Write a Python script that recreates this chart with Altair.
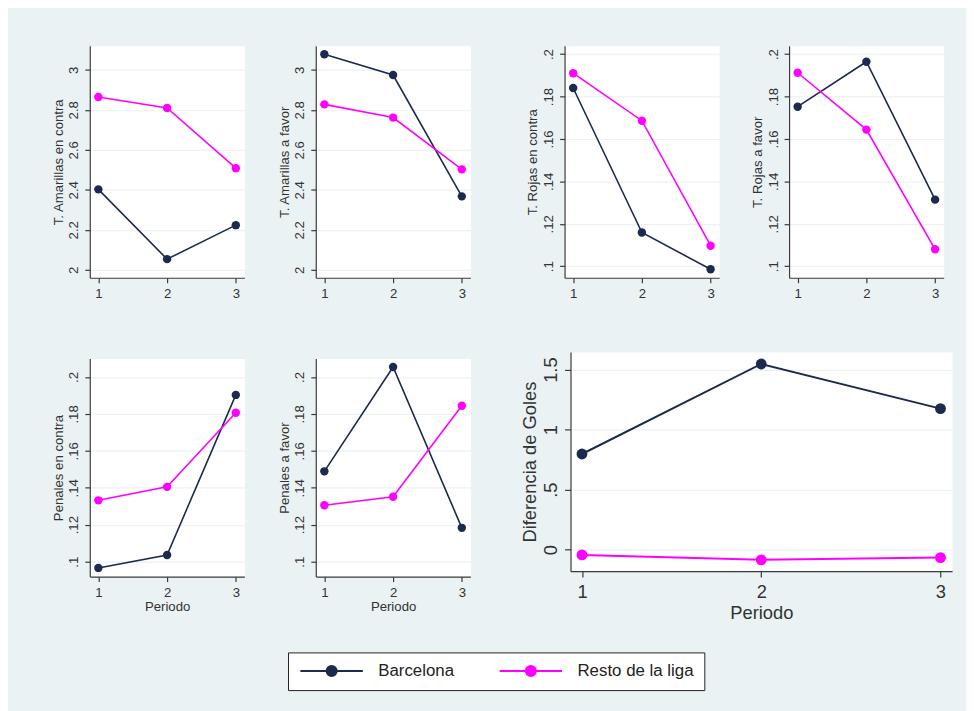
import altair as alt
import pandas as pd

# ---------------- data ----------------
periodos = [1, 2, 3]
series = ["Barcelona", "Resto de la liga"]

amar_contra_barca = [2.402, 2.053, 2.223]
amar_contra_resto = [2.864, 2.809, 2.508]
amar_favor_barca = [3.078, 2.974, 2.367]
amar_favor_resto = [2.827, 2.761, 2.502]
rojas_contra_barca = [0.1840, 0.1159, 0.0986]
rojas_contra_resto = [0.1910, 0.1686, 0.1097]
rojas_favor_barca = [0.1752, 0.1964, 0.1314]
rojas_favor_resto = [0.1912, 0.1644, 0.1080]
pen_contra_barca = [0.0966, 0.1036, 0.1903]
pen_contra_resto = [0.1332, 0.1405, 0.1806]
pen_favor_barca = [0.1489, 0.2054, 0.1183]
pen_favor_resto = [0.1305, 0.1351, 0.1844]
goles_barca = [0.797, 1.547, 1.175]
goles_resto = [-0.044, -0.085, -0.066]

ticks_amar = [2, 2.2, 2.4, 2.6, 2.8, 3]
ticks_small = [0.1, 0.12, 0.14, 0.16, 0.18, 0.2]
ticks_goles = [0, 0.5, 1, 1.5]

# ---------------- style ----------------
NAVY = "#1b2a4e"
MAG = "#ff00ff"
BG = "#eaf2f3"
FONT = "Liberation Sans"
AXC = "#3a3a3a"
TXT = "#333333"

label_expr = ("datum.value > 0 && datum.value < 1 ? "
              "substring(format(datum.value, '~g'), 1) : format(datum.value, '~g')")

# line + dot legend symbol (unit = 6 px when symbolSize = 144)
legend_path = ("M-1,0H9.5M3.4,0A0.85,0.85,0,1,1,5.1,0"
               "A0.85,0.85,0,1,1,3.4,0Z")

legend = alt.Legend(
    title=None, orient="none", legendX=200, legendY=612,
    direction="horizontal", columns=2,
    symbolType=legend_path, symbolSize=144, symbolStrokeWidth=2,
    symbolOpacity=1,
    labelFont=FONT, labelFontSize=17, labelColor="#222222",
    labelOffset=64, columnPadding=41, padding=10,
    strokeColor="#222222", fillColor="white",
)


def panel(barca, resto, ytitle, ydom, yvals, w, h, xdom, xtitle, big=False):
    fs = 18.5 if big else 13.3
    df = pd.DataFrame({
        "Periodo": periodos * 2,
        "valor": barca + resto,
        "serie": [series[0]] * 3 + [series[1]] * 3,
    })
    xaxis_kw = dict(values=periodos, format="d", grid=False,
                    labelFontSize=fs, titleFontSize=fs,
                    labelPadding=6 if big else 4, titlePadding=2 if big else 1,
                    tickSize=6 if big else 5)
    if xtitle:
        xaxis = alt.Axis(title=xtitle, **xaxis_kw)
    else:
        xaxis = alt.Axis(title=None, **xaxis_kw)
    x = alt.X("Periodo:Q",
              scale=alt.Scale(domain=xdom, nice=False, zero=False),
              axis=xaxis)
    y = alt.Y("valor:Q",
              scale=alt.Scale(domain=ydom, nice=False, zero=False),
              axis=alt.Axis(values=yvals, labelExpr=label_expr, title=ytitle,
                            labelAngle=270, labelFontSize=fs, titleFontSize=fs,
                            labelPadding=4, titlePadding=2,
                            tickSize=6 if big else 5, grid=True))
    color = alt.Color("serie:N",
                      scale=alt.Scale(domain=series, range=[NAVY, MAG]),
                      legend=legend)
    base = alt.Chart(df).encode(x=x, y=y, color=color)
    line = base.mark_line(strokeWidth=2 if big else 1.6)
    pts = base.mark_circle(size=120 if big else 72, opacity=1)
    return alt.layer(line, pts).properties(
        width=w, height=h,
        view=alt.ViewBackground(fill="white", stroke="transparent"))


XS = [0.875, 3.125]
XB = [0.936, 3.065]

p1 = panel(amar_contra_barca, amar_contra_resto, "T. Amarillas en contra",
           [1.96, 3.12], ticks_amar, 156, 234, XS, None)
p2 = panel(amar_favor_barca, amar_favor_resto, "T. Amarillas a favor",
           [1.96, 3.12], ticks_amar, 156, 234, XS, None)
p3 = panel(rojas_contra_barca, rojas_contra_resto, "T. Rojas en contra",
           [0.0946, 0.2039], ticks_small, 156, 234, XS, None)
p4 = panel(rojas_favor_barca, rojas_favor_resto, "T. Rojas a favor",
           [0.0946, 0.2039], ticks_small, 156, 234, XS, None)
p5 = panel(pen_contra_barca, pen_contra_resto, "Penales en contra",
           [0.0919, 0.2100], ticks_small, 156, 220, XS, "Periodo")
p6 = panel(pen_favor_barca, pen_favor_resto, "Penales a favor",
           [0.0919, 0.2100], ticks_small, 156, 220, XS, "Periodo")
p7 = panel(goles_barca, goles_resto, "Diferencia de Goles",
           [-0.179, 1.646], ticks_goles, 385, 221, XB, "Periodo", big=True)

spacer = alt.Chart(pd.DataFrame({"s": [0]})).mark_rect(opacity=0).encode(
    x=alt.value(0), x2=alt.value(150), y=alt.value(0), y2=alt.value(1)
).properties(width=156, height=1,
             view=alt.ViewBackground(fill="transparent", stroke="transparent"))

top = alt.hconcat(
    alt.hconcat(p1, p2, spacing=31),
    alt.hconcat(p3, p4, spacing=29.5),
    spacing=54)

bottom = alt.hconcat(
    alt.hconcat(
        alt.vconcat(spacer, p5, spacing=3.5),
        alt.vconcat(spacer, p6, spacing=3.5),
        spacing=31),
    p7, spacing=49)

chart = alt.vconcat(top, bottom, spacing=51).properties(
    background=BG,
    padding={"left": 42.5, "top": 34, "right": 13, "bottom": 21},
).configure_axis(
    domainColor=AXC, tickColor=AXC, labelColor=TXT, titleColor=TXT,
    labelFont=FONT, titleFont=FONT, titleFontWeight="normal",
    gridColor=BG, gridWidth=1.2, domainWidth=1.2, tickWidth=1.2,
).configure_view(stroke="transparent")

chart.save("out.html", embed_options={"renderer": "svg", "actions": False})
